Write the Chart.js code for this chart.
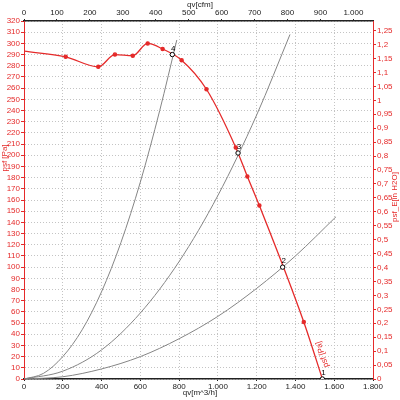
<!DOCTYPE html>
<html>
<head>
<meta charset="utf-8">
<script src="https://cdn.jsdelivr.net/npm/chart.js@4.4.1/dist/chart.umd.min.js"></script>
<style>html,body{margin:0;padding:0;background:#fff}</style>
</head>
<body>
<canvas id="fan-chart" width="400" height="400"></canvas>
<script>
// Fan curve (m^3/h vs Pa)
const fanFlow = [0, 215, 383, 469, 561, 638, 715, 813, 941, 1092, 1152, 1214, 1443, 1539];
const fanPressure = [293, 288, 279, 290, 289, 300, 295, 285, 259, 207, 181, 155, 51, 0];
const fanMarker = [0, 1, 1, 1, 1, 1, 1, 1, 1, 1, 1, 1, 1, 0];

// System curves (grey)
const sys1Flow = [0, 100, 200, 300, 400, 500, 600, 700, 788];
const sys1Pressure = [0, 5, 20, 44, 78, 122, 176, 240, 303];
const sys2Flow = [0, 200, 400, 600, 800, 1000, 1200, 1372];
const sys2Pressure = [0, 7, 26, 59, 105, 164, 236, 308];
const sys3Flow = [0, 200, 400, 600, 800, 1000, 1200, 1400, 1609];
const sys3Pressure = [0, 2, 9, 20, 36, 56, 81, 110, 145];

// Operating points
const opFlow = [1539, 1334, 1104, 765];
const opPressure = [0, 100, 202, 290];
const opLabels = ['1', '2', '3', '4'];

// Axis ranges
const flowMax = 1800;          // m^3/h
const cfmMax = flowMax / 1.699; // cfm
const paMax = 320;             // Pa
const inH2OMax = paMax / 249.089;

const RED = '#e52a2a';
const GREY = '#858585';
const FONT = { family: 'Liberation Sans, Arial, sans-serif', size: 8 };

const toPts = (xs, ys) => xs.map((x, i) => ({ x: x, y: ys[i] }));
const dotNum = (v) => v >= 1000 ? Math.floor(v / 1000) + '.' + String(v % 1000).padStart(3, '0') : String(v);

// Axis titles, op-point numbers and the curve label
const labelsPlugin = {
  id: 'labels',
  afterDatasetsDraw(chart) {
    const ctx = chart.ctx;
    const x = chart.scales.x;
    const y = chart.scales.y;
    ctx.save();
    ctx.font = '8px Liberation Sans, Arial, sans-serif';
    ctx.textAlign = 'center';
    ctx.textBaseline = 'middle';

    ctx.fillStyle = '#000';
    opFlow.forEach((q, i) => {
      ctx.fillText(opLabels[i], x.getPixelForValue(q) + 1, y.getPixelForValue(opPressure[i]) - 6);
    });

    ctx.fillStyle = '#222';
    ctx.fillText('qv[cfm]', 200, 5);
    ctx.fillText('qv[m^3/h]', 200, 393);

    ctx.fillStyle = RED;
    ctx.save();
    ctx.translate(5, 158);
    ctx.rotate(-Math.PI / 2);
    ctx.fillText('psf [Pa]', 0, 0);
    ctx.restore();

    ctx.save();
    ctx.translate(395, 197);
    ctx.rotate(-Math.PI / 2);
    ctx.fillText('psf_E[in H2O]', 0, 0);
    ctx.restore();

    // label along the fan curve near its end
    ctx.save();
    ctx.translate(x.getPixelForValue(1498) + 8, y.getPixelForValue(22));
    ctx.rotate(-108 * Math.PI / 180);
    ctx.fillText('psf [Pa]', 0, 0);
    ctx.restore();

    ctx.restore();
  }
};

new Chart(document.getElementById('fan-chart'), {
  type: 'scatter',
  data: {
    datasets: [
      {
        data: toPts(opFlow, opPressure),
        showLine: false,
        pointRadius: 2.2,
        pointBackgroundColor: '#fff',
        pointBorderColor: '#000',
        pointBorderWidth: 1,
        order: 0,
      },
      {
        data: toPts(fanFlow, fanPressure),
        showLine: true,
        borderColor: RED,
        borderWidth: 1.3,
        cubicInterpolationMode: 'monotone',
        pointRadius: fanMarker.map((m) => m * 1.6),
        pointBackgroundColor: RED,
        pointBorderColor: RED,
        order: 1,
      },
      {
        data: toPts(sys1Flow, sys1Pressure),
        showLine: true,
        borderColor: GREY,
        borderWidth: 1,
        cubicInterpolationMode: 'monotone',
        pointRadius: 0,
        order: 2,
      },
      {
        data: toPts(sys2Flow, sys2Pressure),
        showLine: true,
        borderColor: GREY,
        borderWidth: 1,
        cubicInterpolationMode: 'monotone',
        pointRadius: 0,
        order: 2,
      },
      {
        data: toPts(sys3Flow, sys3Pressure),
        showLine: true,
        borderColor: GREY,
        borderWidth: 1,
        cubicInterpolationMode: 'monotone',
        pointRadius: 0,
        order: 2,
      },
    ],
  },
  options: {
    responsive: false,
    animation: false,
    layout: { padding: 0 },
    plugins: {
      legend: { display: false },
      tooltip: { enabled: false },
    },
    scales: {
      x: {
        type: 'linear',
        position: 'bottom',
        min: 0,
        max: flowMax,
        afterFit: (s) => { s.height = 21; },
        ticks: { stepSize: 200, autoSkip: false, color: '#222', font: FONT, padding: 1, maxRotation: 0, callback: (v) => dotNum(v) },
        grid: { color: '#c4c4c4', tickLength: 2, tickColor: '#222', tickBorderDash: [] },
        border: { color: '#222', width: 1.5, dash: [1, 2] },
      },
      xTop: {
        type: 'linear',
        position: 'top',
        min: 0,
        max: cfmMax,
        afterFit: (s) => { s.height = 21; },
        ticks: { stepSize: 100, autoSkip: false, includeBounds: false, color: '#222', font: FONT, padding: 1, maxRotation: 0, callback: (v) => dotNum(v) },
        grid: { drawOnChartArea: false, tickLength: 2, tickColor: '#222' },
        border: { color: '#222', width: 1.5 },
      },
      y: {
        type: 'linear',
        position: 'left',
        min: 0,
        max: paMax,
        afterFit: (s) => { s.width = 24; },
        ticks: { stepSize: 10, autoSkip: false, color: RED, font: FONT, padding: 1 },
        grid: { color: '#c4c4c4', tickLength: 3, tickColor: RED, tickBorderDash: [] },
        border: { color: RED, width: 1, dash: [1, 2] },
      },
      yRight: {
        type: 'linear',
        position: 'right',
        min: 0,
        max: inH2OMax,
        afterFit: (s) => { s.width = 27; },
        ticks: {
          stepSize: 0.05,
          autoSkip: false,
          includeBounds: false,
          color: RED,
          font: FONT,
          padding: 1,
          callback: (v) => String(parseFloat(v.toFixed(2))).replace('.', ','),
        },
        grid: { drawOnChartArea: false, tickLength: 3, tickColor: RED },
        border: { color: RED, width: 1 },
      },
    },
  },
  plugins: [labelsPlugin],
});
</script>
</body>
</html>
